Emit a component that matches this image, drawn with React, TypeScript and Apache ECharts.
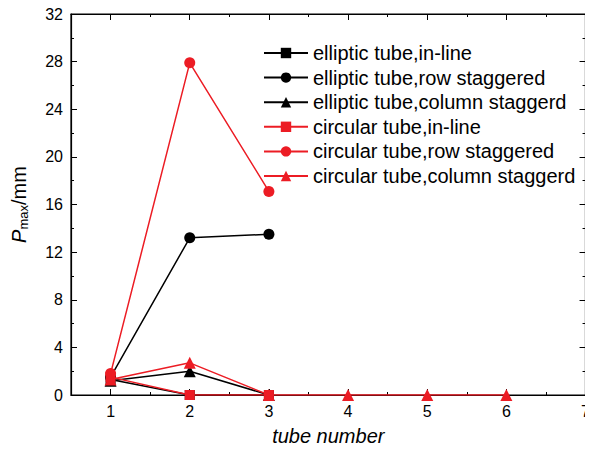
import React, { useEffect, useRef } from "react";
import * as echarts from "echarts";

const tubeNumbers = [1, 2, 3, 4, 5, 6];
const ellipticInLine = [1.3, 0, 0];
const ellipticRowStaggered = [1.5, 13.2, 13.5];
const ellipticColumnStaggered = [1.2, 2.0, 0];
const circularInLine = [1.5, 0, 0];
const circularRowStaggered = [1.8, 27.9, 17.1];
const circularColumnStaggered = [1.3, 2.7, 0, 0, 0, 0];

const seriesNames = [
  "elliptic tube,in-line",
  "elliptic tube,row staggered",
  "elliptic tube,column staggerd",
  "circular tube,in-line",
  "circular tube,row staggered",
  "circular tube,column staggerd",
];

const xMajorTicks = [1, 2, 3, 4, 5, 6, 7];
const xMinorTicks = [1.5, 2.5, 3.5, 4.5, 5.5, 6.5];

const BLACK = "#000000";
const RED = "#ec1c24";
const FONT = "Liberation Sans, Arial, sans-serif";

const pairs = (vals: number[]) => vals.map((v, i) => [tubeNumbers[i], v]);

export default function App() {
  const ref = useRef<HTMLDivElement>(null);
  useEffect(() => {
    if (!ref.current) return;
    const chart = echarts.init(ref.current, undefined, { renderer: "svg" });
    const mk = (name: string, data: number[], color: string, symbol: string, size: number, z: number) => ({
      name,
      type: "line",
      data: pairs(data),
      symbol,
      symbolSize: size,
      z,
      lineStyle: { color, width: 1.5 },
      itemStyle: { color },
      xAxisIndex: 0,
      yAxisIndex: 0,
    });
    const frameLine = { show: true, onZero: false, lineStyle: { color: "#000", width: 1.2 } };
    const hiddenAxis = {
      axisLabel: { show: false },
      splitLine: { show: false },
    };
    chart.setOption({
      animation: false,
      backgroundColor: "#ffffff",
      textStyle: { fontFamily: FONT },
      grid: {
        left: 71,
        right: 7,
        top: 14,
        bottom: 56,
        containLabel: false,
        show: true,
        borderColor: "#000",
        borderWidth: 1.2,
        backgroundColor: "transparent",
      },
      legend: {
        orient: "vertical",
        left: 258,
        top: 38,
        itemWidth: 44,
        itemHeight: 13,
        itemGap: 4.6,
        textStyle: { fontSize: 20, color: "#000", fontFamily: FONT, lineHeight: 20 },
        data: seriesNames,
      },
      xAxis: [
        {
          type: "value",
          min: 0.5,
          max: 7,
          name: "tube number",
          nameLocation: "middle",
          nameGap: 31,
          nameTextStyle: { fontSize: 20, fontStyle: "italic", color: "#000", fontFamily: FONT },
          axisLine: frameLine,
          axisTick: { inside: true, length: 6, customValues: xMajorTicks, lineStyle: { color: "#000" } },
          axisLabel: { customValues: xMajorTicks, fontSize: 16, color: "#000", margin: 8, fontFamily: FONT },
          splitLine: { show: false },
        },
        {
          type: "value",
          min: 0.5,
          max: 7,
          position: "bottom",
          axisLine: { show: false, onZero: false },
          axisTick: { inside: true, length: 3, customValues: xMinorTicks, lineStyle: { color: "#000" } },
          ...hiddenAxis,
        },
        {
          type: "value",
          min: 0.5,
          max: 7,
          position: "top",
          axisLine: frameLine,
          axisTick: { inside: true, length: 6, customValues: xMajorTicks, lineStyle: { color: "#000" } },
          ...hiddenAxis,
        },
        {
          type: "value",
          min: 0.5,
          max: 7,
          position: "top",
          axisLine: { show: false, onZero: false },
          axisTick: { inside: true, length: 3, customValues: xMinorTicks, lineStyle: { color: "#000" } },
          ...hiddenAxis,
        },
      ],
      yAxis: [
        {
          type: "value",
          min: 0,
          max: 32,
          interval: 4,
          name: "{p|P}{sub|max}{u|/mm}",
          nameLocation: "middle",
          nameGap: 41,
          nameRotate: 90,
          nameTextStyle: {
            color: "#000",
            rich: {
              p: { fontSize: 20, fontStyle: "italic", fontFamily: FONT, color: "#000" },
              sub: { fontSize: 13, fontFamily: FONT, color: "#000", verticalAlign: "bottom", padding: [9, 0, 0, 0] },
              u: { fontSize: 20, fontFamily: FONT, color: "#000" },
            },
          },
          axisLine: frameLine,
          axisTick: { show: true, inside: true, length: 6, lineStyle: { color: "#000" } },
          minorTick: { show: true, splitNumber: 2, length: 3, lineStyle: { color: "#000" } },
          axisLabel: { fontSize: 16, color: "#000", margin: 8, fontFamily: FONT },
          splitLine: { show: false },
          minorSplitLine: { show: false },
        },
        {
          type: "value",
          min: 0,
          max: 32,
          interval: 4,
          position: "right",
          axisLine: frameLine,
          axisTick: { show: true, inside: true, length: 6, lineStyle: { color: "#000" } },
          minorTick: { show: true, splitNumber: 2, length: 3, lineStyle: { color: "#000" } },
          ...hiddenAxis,
          minorSplitLine: { show: false },
        },
      ],
      series: [
        mk(seriesNames[0], ellipticInLine, BLACK, "rect", 10, 2),
        mk(seriesNames[1], ellipticRowStaggered, BLACK, "circle", 11, 2),
        mk(seriesNames[2], ellipticColumnStaggered, BLACK, "triangle", 12, 2),
        mk(seriesNames[3], circularInLine, RED, "rect", 10, 3),
        mk(seriesNames[4], circularRowStaggered, RED, "circle", 11, 3),
        mk(seriesNames[5], circularColumnStaggered, RED, "triangle", 12, 3),
      ],
    });
    return () => chart.dispose();
  }, []);
  return <div ref={ref} style={{ width: 593, height: 451, margin: -8 }} />;
}
